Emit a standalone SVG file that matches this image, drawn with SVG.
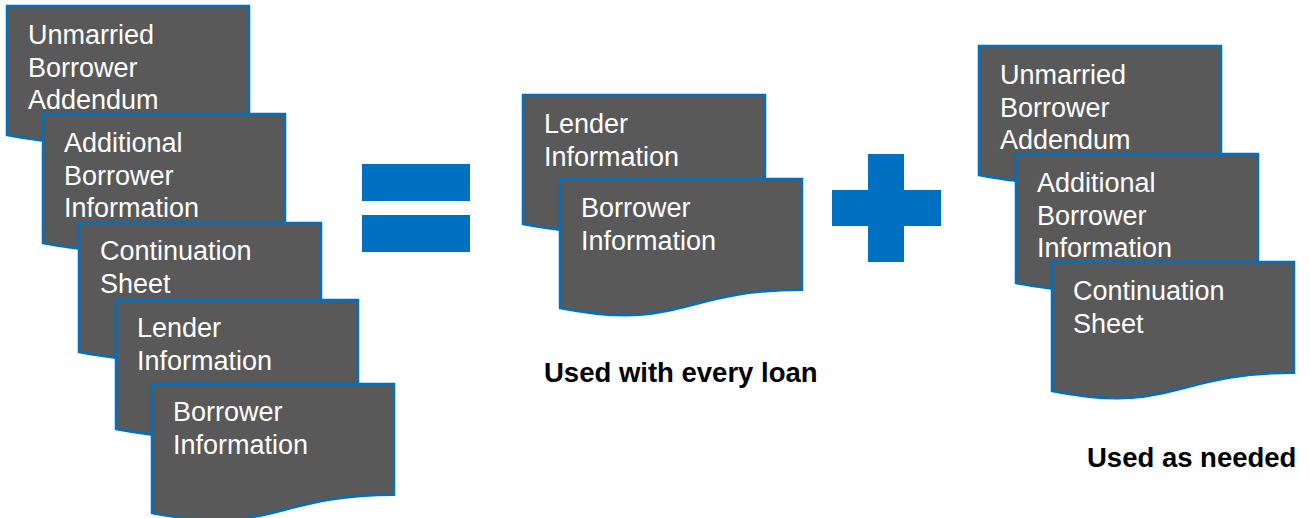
<svg xmlns="http://www.w3.org/2000/svg" xmlns:xlink="http://www.w3.org/1999/xlink" width="1310" height="518" viewBox="0 0 1310 518">
<style>
.doc{fill:#595959;stroke:#0070C0;stroke-width:2.5;stroke-linejoin:miter}
.t{font-family:"Liberation Sans",Arial,sans-serif;font-size:27px;fill:#ffffff}
.lbl{font-family:"Liberation Sans",Arial,sans-serif;font-size:27.5px;font-weight:bold;fill:#000000}
.op{fill:#0070C0}
</style>
<defs>
<path id="docshape" d="M0,0 H242 V110.7 C121,110.7 121,152.8 0,128.9 Z"/>
</defs>
<rect width="1310" height="518" fill="#ffffff"/>

<g id="left-unmarried" transform="translate(7,6)">
<use href="#docshape" class="doc"/>
<text class="t" x="21" y="38">Unmarried</text>
<text class="t" x="21" y="70.5">Borrower</text>
<text class="t" x="21" y="103">Addendum</text>
</g>
<g id="left-additional" transform="translate(43,114)">
<use href="#docshape" class="doc"/>
<text class="t" x="21" y="38">Additional</text>
<text class="t" x="21" y="70.5">Borrower</text>
<text class="t" x="21" y="103">Information</text>
</g>
<g id="left-continuation" transform="translate(79,223)">
<use href="#docshape" class="doc"/>
<text class="t" x="21" y="37">Continuation</text>
<text class="t" x="21" y="69.5">Sheet</text>
</g>
<g id="left-lender" transform="translate(116,300)">
<use href="#docshape" class="doc"/>
<text class="t" x="21" y="37">Lender</text>
<text class="t" x="21" y="69.5">Information</text>
</g>
<g id="left-borrower" transform="translate(152,384)">
<use href="#docshape" class="doc"/>
<text class="t" x="21" y="37">Borrower</text>
<text class="t" x="21" y="69.5">Information</text>
</g>

<g id="equals">
<rect class="op" x="362" y="164" width="108" height="37"/>
<rect class="op" x="362" y="215" width="108" height="37"/>
</g>

<g id="mid-lender" transform="translate(523,95)">
<use href="#docshape" class="doc"/>
<text class="t" x="21" y="38">Lender</text>
<text class="t" x="21" y="70.5">Information</text>
</g>
<g id="mid-borrower" transform="translate(560,179)">
<use href="#docshape" class="doc"/>
<text class="t" x="21" y="38">Borrower</text>
<text class="t" x="21" y="70.5">Information</text>
</g>
<text id="label-every" class="lbl" x="544" y="382">Used with every loan</text>

<g id="plus">
<path class="op" d="M868,154 H904 V190 H941 V226 H904 V262 H868 V226 H832 V190 H868 Z"/>
</g>

<g id="right-unmarried" transform="translate(979,46)">
<use href="#docshape" class="doc"/>
<text class="t" x="21" y="38">Unmarried</text>
<text class="t" x="21" y="70.5">Borrower</text>
<text class="t" x="21" y="103">Addendum</text>
</g>
<g id="right-additional" transform="translate(1016,154)">
<use href="#docshape" class="doc"/>
<text class="t" x="21" y="38">Additional</text>
<text class="t" x="21" y="70.5">Borrower</text>
<text class="t" x="21" y="103">Information</text>
</g>
<g id="right-continuation" transform="translate(1052,262)">
<use href="#docshape" class="doc"/>
<text class="t" x="21" y="38">Continuation</text>
<text class="t" x="21" y="70.5">Sheet</text>
</g>
<text id="label-needed" class="lbl" x="1087" y="467">Used as needed</text>
<g id="connectors"/>
</svg>
